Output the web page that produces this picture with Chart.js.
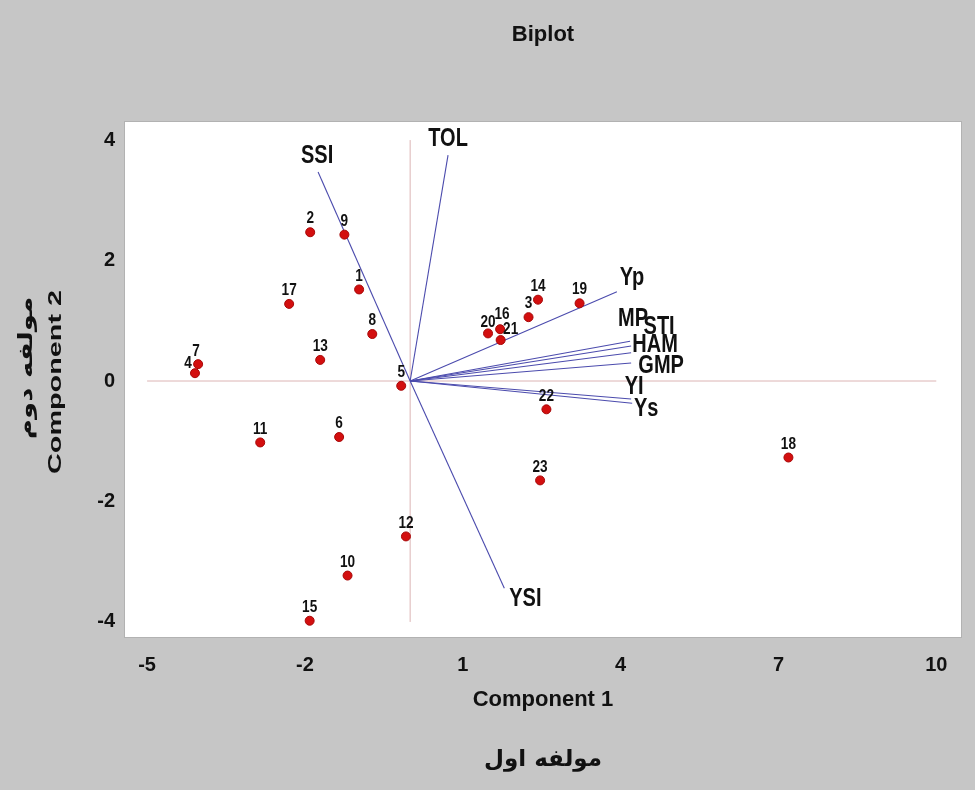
<!DOCTYPE html>
<html>
<head>
<meta charset="utf-8">
<script src="https://cdn.jsdelivr.net/npm/chart.js@4"></script>
<style>
  html, body { margin: 0; padding: 0; background: #c6c6c6; }
  #wrap { width: 975px; height: 790px; position: relative; }
</style>
</head>
<body>
<div id="wrap"><canvas id="biplot"></canvas></div>
<script>
// genotype scores
const genotypes = ['1','2','3','4','5','6','7','8','9','10','11','12','13','14','15','16','17','18','19','20','21','22','23'];
const comp1 = [-0.97, -1.90, 2.25, -4.09, -0.17, -1.35, -4.03, -0.72, -1.25, -1.19, -2.85, -0.08, -1.71, 2.43, -1.91, 1.71, -2.30, 7.19, 3.22, 1.48, 1.72, 2.59, 2.47];
const comp2 = [1.52, 2.47, 1.06, 0.13, -0.08, -0.93, 0.28, 0.78, 2.43, -3.23, -1.02, -2.58, 0.35, 1.35, -3.98, 0.86, 1.28, -1.27, 1.29, 0.79, 0.68, -0.47, -1.65];

// trait vectors
const traits = ['SSI', 'TOL', 'Yp', 'MP', 'STI', 'HAM', 'GMP', 'YI', 'Ys', 'YSI'];
const traitComp1 = [-1.75, 0.72, 3.93, 4.18, 4.20, 4.20, 4.20, 4.20, 4.22, 1.79];
const traitComp2 = [3.47, 3.75, 1.48, 0.66, 0.58, 0.47, 0.30, -0.30, -0.37, -3.44];

const xTicks = [-5, -2, 1, 4, 7, 10];
const yTicks = [-4, -2, 0, 2, 4];

// label placement (pixels from the mark)
const traitLabelShift = [[-1, -16], [0, -16], [15, -14], [3, -22], [28, -19], [24, -8], [30, 3], [3, -12], [14, 6], [21, 11]];
const pointLabelShift = { '4': [-7, -10], '7': [-2, -13], '20': [0, -11], '21': [10, -11], '16': [2, -15] };

const sans = "'Liberation Sans', Arial, sans-serif";
const arabic = "'DejaVu Sans', sans-serif";
const ink = '#111';
const squeeze = 0.8; // the reference text is condensed

const datasets = [];

datasets.push({
  label: 'genotypes',
  data: genotypes.map((g, i) => ({ x: comp1[i], y: comp2[i] })),
  backgroundColor: '#d30f0f',
  borderColor: '#a80808',
  borderWidth: 1,
  pointRadius: 4.5,
  order: 0
});

traits.forEach((t, i) => {
  datasets.push({
    label: t,
    data: [{ x: 0, y: 0 }, { x: traitComp1[i], y: traitComp2[i] }],
    showLine: true,
    borderColor: '#4b4bad',
    borderWidth: 1.1,
    pointRadius: 0,
    order: 1
  });
});

datasets.push({
  label: 'h0',
  data: [{ x: xTicks[0], y: 0 }, { x: xTicks[xTicks.length - 1], y: 0 }],
  showLine: true, borderColor: '#dcb4b4', borderWidth: 1, pointRadius: 0, order: 2
});
datasets.push({
  label: 'v0',
  data: [{ x: 0, y: yTicks[0] }, { x: 0, y: yTicks[yTicks.length - 1] }],
  showLine: true, borderColor: '#dcb4b4', borderWidth: 1, pointRadius: 0, order: 2
});

const plotBg = {
  id: 'plotBg',
  beforeDraw(chart) {
    const { ctx, chartArea: a } = chart;
    ctx.save();
    ctx.fillStyle = '#ffffff';
    ctx.fillRect(a.left, a.top, a.right - a.left, a.bottom - a.top);
    ctx.strokeStyle = '#b2b2b2';
    ctx.lineWidth = 1;
    ctx.strokeRect(a.left - 0.5, a.top - 0.5, a.right - a.left + 1, a.bottom - a.top + 1);
    ctx.restore();
  }
};

function drawText(ctx, text, x, y, sx, sy, rot) {
  ctx.save();
  ctx.translate(x, y);
  if (rot) ctx.rotate(rot);
  ctx.scale(sx, sy);
  ctx.fillText(text, 0, 0);
  ctx.restore();
}

const labels = {
  id: 'labels',
  afterDraw(chart) {
    const { ctx } = chart;
    const xs = chart.scales.x, ys = chart.scales.y;
    ctx.save();
    ctx.fillStyle = ink;
    ctx.textAlign = 'center';
    ctx.textBaseline = 'middle';

    ctx.font = 'bold 17px ' + sans;
    genotypes.forEach((g, i) => {
      const s = pointLabelShift[g] || [0, -13.5];
      drawText(ctx, g, xs.getPixelForValue(comp1[i]) + s[0], ys.getPixelForValue(comp2[i]) + s[1], squeeze, 1);
    });

    ctx.font = 'bold 25px ' + sans;
    traits.forEach((t, i) => {
      const s = traitLabelShift[i];
      drawText(ctx, t, xs.getPixelForValue(traitComp1[i]) + s[0], ys.getPixelForValue(traitComp2[i]) + s[1], squeeze, 1);
    });

    // y axis titles (two lines, rotated)
    ctx.font = 'bold 24px ' + arabic;
    drawText(ctx, 'مولفه دوم', 27, 368, 1.15, 0.8, -Math.PI / 2);
    ctx.font = 'bold 24px ' + sans;
    drawText(ctx, 'Component 2', 56, 382, 1.2, 0.8, -Math.PI / 2);
    ctx.restore();
  }
};

const tickFont = { family: sans, size: 20, weight: 'bold' };

new Chart(document.getElementById('biplot'), {
  type: 'scatter',
  data: { datasets: datasets },
  options: {
    responsive: true,
    maintainAspectRatio: false,
    animation: false,
    devicePixelRatio: 1,
    layout: { padding: { top: 0, left: 0, right: 14, bottom: 0 } },
    plugins: {
      legend: { display: false },
      tooltip: { enabled: false },
      title: {
        display: true,
        fullSize: false,
        text: 'Biplot',
        color: ink,
        font: { family: sans, size: 22, weight: 'bold' },
        padding: { top: 22, bottom: 73.6 }
      },
      subtitle: {
        display: true,
        fullSize: false,
        position: 'bottom',
        text: 'مولفه اول',
        color: ink,
        font: { family: arabic, size: 23, weight: 'bold' },
        padding: { top: 9, bottom: 16 }
      }
    },
    scales: {
      x: {
        type: 'linear',
        min: -5.42,
        max: 10.47,
        afterBuildTicks: s => { s.ticks = xTicks.map(v => ({ value: v })); },
        afterFit: s => { s.height = 100.4; },
        grid: { display: false, drawTicks: false },
        border: { display: false },
        ticks: { padding: 16, color: ink, font: tickFont, autoSkip: false, maxRotation: 0 },
        title: {
          display: true,
          text: 'Component 1',
          color: ink,
          font: { family: sans, size: 22, weight: 'bold' },
          padding: { top: 0, bottom: 24.5 }
        }
      },
      y: {
        type: 'linear',
        min: -4.25,
        max: 4.30,
        afterBuildTicks: s => { s.ticks = yTicks.map(v => ({ value: v })); },
        afterFit: s => { s.width = 125; },
        grid: { display: false, drawTicks: false },
        border: { display: false },
        ticks: { padding: 10, color: ink, font: tickFont, autoSkip: false }
      }
    }
  },
  plugins: [plotBg, labels]
});
</script>
</body>
</html>
